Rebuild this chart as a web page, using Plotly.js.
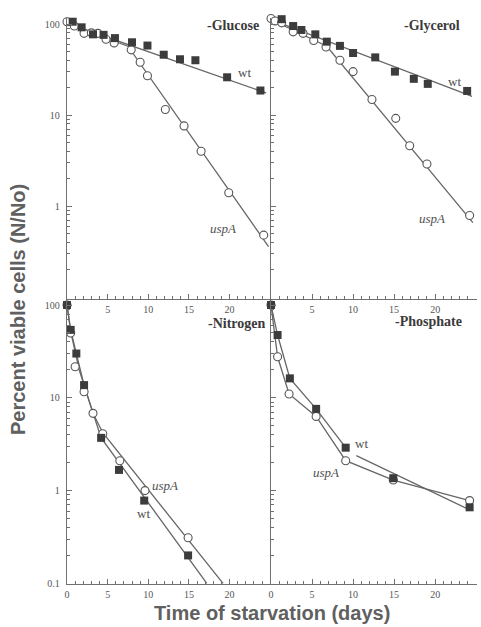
<!DOCTYPE html>
<html>
<head>
<meta charset="utf-8">
<script src="https://cdn.plot.ly/plotly-3.0.1.min.js"></script>
<style>html,body{margin:0;padding:0;background:#fff;}#chart{width:481px;height:627px;}</style>
</head>
<body>
<div id="chart"></div>
<script>
// ---- Data (days, percent viable cells) ----
const glucoseWtDays = [0.7, 1.8, 3.2, 4.5, 5.9, 8.0, 9.9, 11.9, 13.9, 15.8, 19.7, 23.8];
const glucoseWtVals = [106, 92, 77, 76, 70, 63, 58, 46, 41, 40, 26, 18.6];
const glucoseUspDays = [0, 0.9, 2.1, 3.0, 3.8, 4.8, 5.8, 7.9, 9.0, 9.9, 12.1, 14.4, 16.5, 19.9, 24.2];
const glucoseUspVals = [106, 95, 79, 80, 79, 68, 62, 52, 38, 27, 11.5, 7.6, 4.0, 1.4, 0.48];
const glucoseWtFitDays = [0, 24.5];
const glucoseWtFitVals = [102, 17.5];
const glucoseUspFitDays = [0, 7.5, 24.8];
const glucoseUspFitVals = [100, 57, 0.36];

const glycerolWtDays = [1.3, 2.7, 3.7, 5.4, 6.8, 8.4, 10.0, 12.7, 15.1, 17.4, 19.1, 23.9];
const glycerolWtVals = [113, 95, 86, 77, 64, 57.5, 48, 43, 30, 25, 22, 18.4];
const glycerolUspDays = [0, 0.5, 1.3, 2.7, 3.9, 5.2, 6.7, 8.4, 10.0, 12.3, 15.2, 16.9, 19.0, 24.2];
const glycerolUspVals = [115, 108, 103, 82, 79, 66, 56, 40, 30, 14.8, 9.2, 4.6, 2.9, 0.79];
const glycerolWtFitDays = [0, 24.5];
const glycerolWtFitVals = [112, 16];
const glycerolUspFitDays = [0, 6.8, 24.6];
const glycerolUspFitVals = [112, 57, 0.66];

const nitrogenWtDays = [0, 0.45, 1.15, 2.1, 4.2, 6.4, 9.5, 14.9];
const nitrogenWtVals = [100, 54, 30, 13.7, 3.7, 1.67, 0.78, 0.2];
const nitrogenUspDays = [0, 0.45, 1.0, 2.1, 3.2, 4.4, 6.5, 9.6, 14.9];
const nitrogenUspVals = [100, 50, 21.6, 11.6, 6.8, 4.1, 2.1, 1.0, 0.31];
const nitrogenWtFitDays = [0, 0.45, 1.15, 2.1, 4.2, 17.2];
const nitrogenWtFitVals = [100, 54, 30, 13.7, 3.7, 0.1];
const nitrogenUspFitDays = [0, 0.45, 1.5, 3.2, 4.4, 19.2];
const nitrogenUspFitVals = [100, 52, 20, 6.8, 4.2, 0.1];

const phosphateWtDays = [0, 0.8, 2.3, 5.5, 9.1, 14.9, 24.2];
const phosphateWtVals = [100, 47.5, 16.2, 7.6, 2.9, 1.36, 0.66];
const phosphateUspDays = [0, 0.8, 2.2, 5.5, 9.1, 14.9, 24.2];
const phosphateUspVals = [100, 27.7, 11, 6.3, 2.1, 1.3, 0.78];
const phosphateWtFitDays = [0, 0.8, 2.3, 5.5, 9.1, null, 10.4, 24.2];
const phosphateWtFitVals = [100, 47.5, 16.2, 7.6, 2.9, null, 2.38, 0.62];
const phosphateUspFitDays = [0, 0.8, 2.2, 5.5, 9.1, 14.9, 24.2];
const phosphateUspFitVals = [100, 27.7, 11, 6.3, 2.1, 1.3, 0.78];

const panelNames = ['-Glucose', '-Glycerol', '-Nitrogen', '-Phosphate'];
const strainNames = ['wt', 'uspA'];
const yTickTop = [1, 10, 100];
const yTickBottom = [0.1, 1, 10, 100];
const yMinor = [0.2,0.3,0.4,0.5,0.6,0.7,0.8,0.9,2,3,4,5,6,7,8,9,20,30,40,50,60,70,80,90];
const xTickTopPanels = [5, 10, 15, 20];
const xTickBottomLeft = [0, 5, 10, 15, 20];
const xTickBottomRight = [0, 5, 10, 15, 20, 25];
const xMinor = Array.from({length: 26}, (_, i) => i);
const yTitle = 'Percent viable cells (N/No)';
const xTitle = 'Time of starvation (days)';

// ---- Styles ----
const lineCol = '#666666';
const axCol = '#707070';
const markFill = '#3c3c3c';
const lineStyle = {color: lineCol, width: 1.3};
const sqMarker = {symbol: 'square', size: 8, color: markFill, line: {width: 0}};
const ciMarker = {symbol: 'circle', size: 8, color: '#ffffff', line: {color: '#555555', width: 1.1}};

function panel(xa, ya, wtD, wtV, uD, uV, wfD, wfV, ufD, ufV) {
  return [
    {x: wfD, y: wfV, xaxis: xa, yaxis: ya, mode: 'lines', line: lineStyle, connectgaps: false, hoverinfo: 'skip'},
    {x: ufD, y: ufV, xaxis: xa, yaxis: ya, mode: 'lines', line: lineStyle, hoverinfo: 'skip'},
    {x: uD, y: uV, xaxis: xa, yaxis: ya, mode: 'markers', marker: ciMarker, name: strainNames[1], cliponaxis: false},
    {x: wtD, y: wtV, xaxis: xa, yaxis: ya, mode: 'markers', marker: sqMarker, name: strainNames[0], cliponaxis: false}
  ];
}

const data = [].concat(
  panel('x', 'y', glucoseWtDays, glucoseWtVals, glucoseUspDays, glucoseUspVals, glucoseWtFitDays, glucoseWtFitVals, glucoseUspFitDays, glucoseUspFitVals),
  panel('x2', 'y2', glycerolWtDays, glycerolWtVals, glycerolUspDays, glycerolUspVals, glycerolWtFitDays, glycerolWtFitVals, glycerolUspFitDays, glycerolUspFitVals),
  panel('x3', 'y3', nitrogenWtDays, nitrogenWtVals, nitrogenUspDays, nitrogenUspVals, nitrogenWtFitDays, nitrogenWtFitVals, nitrogenUspFitDays, nitrogenUspFitVals),
  panel('x4', 'y4', phosphateWtDays, phosphateWtVals, phosphateUspDays, phosphateUspVals, phosphateWtFitDays, phosphateWtFitVals, phosphateUspFitDays, phosphateUspFitVals)
);

const W = 481, H = 627;
const px = v => v / W;
const py = v => 1 - v / H;
const tickFont = {family: 'Liberation Serif, Times New Roman, serif', size: 10, color: '#555555'};

function xAxis(domain, anchor, tv) {
  return {
    domain: domain, anchor: anchor, range: [0, 25.1],
    showline: true, linecolor: axCol, linewidth: 1.3, mirror: false,
    showgrid: false, zeroline: false,
    ticks: 'inside', ticklen: 5, tickcolor: axCol, tickwidth: 1,
    tickmode: 'array', tickvals: tv, ticktext: tv.map(String),
    tickfont: tickFont, ticklabelstandoff: 1,
    minor: {tickmode: 'array', tickvals: xMinor, ticks: 'inside', ticklen: 3, tickcolor: axCol, tickwidth: 1, showgrid: false}
  };
}
function yAxis(domain, anchor, range, tv, showLabels) {
  return {
    domain: domain, anchor: anchor, type: 'log', range: range,
    showline: true, linecolor: axCol, linewidth: 1.3,
    showgrid: false, zeroline: false,
    ticks: 'inside', ticklen: 5, tickcolor: axCol, tickwidth: 1,
    tickmode: 'array', tickvals: tv, ticktext: tv.map(String),
    showticklabels: showLabels,
    tickfont: tickFont, ticklabelstandoff: 4,
    minor: {tickmode: 'array', tickvals: yMinor, ticks: 'inside', ticklen: 3, tickcolor: axCol, tickwidth: 1, showgrid: false}
  };
}

const leftDom = [px(67), px(271)];
const rightDom = [px(271), px(477)];
const topDom = [py(299), py(18)];
const botDom = [py(584), py(299)];
const topRange = [-1.02, 2.066];
const botRange = [-1.007, 2.065];

const panelFont = {family: 'Liberation Serif, Times New Roman, serif', size: 14, color: '#3a3a3a'};
const strainFont = {family: 'Liberation Serif, Times New Roman, serif', size: 13, color: '#505050'};
const titleFont = {family: 'Liberation Sans, Arial, sans-serif', size: 20, color: '#606060'};

function ann(text, x, y, font, extra) {
  return Object.assign({text: text, x: px(x), y: py(y), xref: 'paper', yref: 'paper', showarrow: false, font: font, xanchor: 'center', yanchor: 'middle'}, extra || {});
}

const annotations = [
  ann('<b>' + panelNames[0] + '</b>', 233, 26, panelFont),
  ann('<b>' + panelNames[1] + '</b>', 432, 25, panelFont),
  ann('<b>' + panelNames[2] + '</b>', 236, 323, panelFont),
  ann('<b>' + panelNames[3] + '</b>', 428, 321, panelFont),
  ann(strainNames[0], 244, 72, strainFont),
  ann('<i>' + strainNames[1] + '</i>', 223, 229, strainFont),
  ann(strainNames[0], 454, 81, strainFont),
  ann('<i>' + strainNames[1] + '</i>', 432, 218, strainFont),
  ann('<i>' + strainNames[1] + '</i>', 165, 485, strainFont),
  ann(strainNames[0], 143, 513, strainFont),
  ann(strainNames[0], 361, 443, strainFont),
  ann('<i>' + strainNames[1] + '</i>', 326, 472, strainFont),
  ann('<b>' + yTitle + '</b>', 18, 310, titleFont, {textangle: -90}),
  ann('<b>' + xTitle + '</b>', 272, 613, titleFont)
];

const layout = {
  width: W, height: H,
  margin: {l: 0, r: 0, t: 0, b: 0},
  paper_bgcolor: '#ffffff', plot_bgcolor: 'rgba(0,0,0,0)',
  showlegend: false,
  xaxis: xAxis(leftDom, 'y', xTickTopPanels),
  yaxis: yAxis(topDom, 'x', topRange, yTickTop, true),
  xaxis2: xAxis(rightDom, 'y2', xTickTopPanels),
  yaxis2: yAxis(topDom, 'x2', topRange, yTickTop, false),
  xaxis3: xAxis(leftDom, 'y3', xTickBottomLeft),
  yaxis3: yAxis(botDom, 'x3', botRange, yTickBottom, true),
  xaxis4: xAxis(rightDom, 'y4', xTickBottomRight),
  yaxis4: yAxis(botDom, 'x4', botRange, yTickBottom, false),
  annotations: annotations
};

Plotly.newPlot('chart', data, layout, {staticPlot: true, displayModeBar: false});
</script>
</body>
</html>
